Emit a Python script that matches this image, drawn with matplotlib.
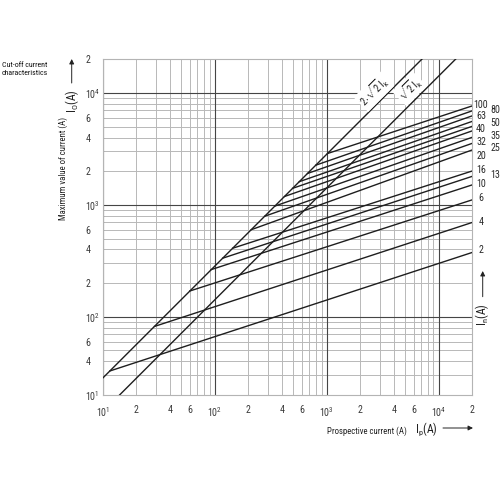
import numpy as np
import matplotlib
matplotlib.use('Agg')
import matplotlib.pyplot as plt
from matplotlib import font_manager as fm
from matplotlib.patches import FancyArrowPatch
from matplotlib.transforms import offset_copy

# ---------------- data ----------------
rated_current = [2, 4, 6, 10, 13, 16, 20, 25, 32, 35, 40, 50, 63, 80, 100]
ip_start = [11.6, 29, 60, 93, 118, 145, 212, 280, 345, 420, 497, 570, 675, 800, 1017]
io_start = [32.8, 82, 170, 264, 334, 410, 600, 792, 976, 1188, 1406, 1612, 1909, 2263, 2876]
io_end = [376, 697, 1110, 1510, 1800, 2010, 3100, 3550, 4020, 4590, 5040, 5580, 6250, 6930, 7670]
ip_end = 20000

peak_ip = [10, 20000]
peak_2sqrt2 = [28.3, 56570]
peak_sqrt2 = [14.14, 28280]

x_ticks = [10, 20, 40, 60, 100, 200, 400, 600, 1000, 2000, 4000, 6000, 10000, 20000]
x_ticklabels = [r'$\mathregular{10^1}$', '2', '4', '6', r'$\mathregular{10^2}$', '2', '4', '6',
                r'$\mathregular{10^3}$', '2', '4', '6', r'$\mathregular{10^4}$', '2']
y_ticks = [20, 40, 60, 100, 200, 400, 600, 1000, 2000, 4000, 6000, 10000, 20000]
y_ticklabels = [r'$\mathregular{10^1}$', '4', '6', r'$\mathregular{10^2}$', '2', '4', '6',
                r'$\mathregular{10^3}$', '2', '4', '6', r'$\mathregular{10^4}$', '2']

# label placement (column, vertical offset in points) for the rated-current labels
label_col = [0, 0, 0, 0, 1, 0, 0, 1, 0, 1, 0, 1, 0, 1, 0]
label_dy = [1.4, 0.2, 1.6, 0.4, 0.7, 0.4, -4.5, -3.1, -3.1, -3.7, -1.7, -0.9, -0.1, 0.6, 0.6]

# ---------------- font: pick the narrowest available ----------------
entries = fm.fontManager.ttflist
names = {f.name for f in entries}
chosen = None
stretch = 'normal'
for nm in ['Liberation Sans Narrow', 'Roboto Condensed', 'Open Sans Condensed',
           'Noto Sans Condensed', 'DejaVu Sans Condensed', 'Arial Narrow']:
    if nm in names:
        chosen = nm
        break
if chosen is None:
    for f in entries:
        st = f.stretch
        cond = (isinstance(st, str) and 'condensed' in st) or (isinstance(st, (int, float)) and st < 500)
        if cond and f.name in ('DejaVu Sans', 'Noto Sans', 'Open Sans', 'Roboto', 'Liberation Sans'):
            chosen = f.name
            stretch = 'condensed'
            break
narrow = chosen is not None
if chosen is None:
    chosen = 'Liberation Sans' if 'Liberation Sans' in names else 'DejaVu Sans'
scale = 1.0 if narrow else 0.88

plt.rcParams['font.family'] = [chosen, 'DejaVu Sans']
plt.rcParams['font.stretch'] = stretch
plt.rcParams['mathtext.fontset'] = 'custom'
plt.rcParams['mathtext.rm'] = chosen
plt.rcParams['mathtext.it'] = chosen

fs_tick = 7.2
fs_small = 6.3 * scale

fig = plt.figure(figsize=(5, 5), dpi=100)
ax = fig.add_axes([0.2054, 0.21, 0.7392, 0.6714])
ax.set_xscale('log')
ax.set_yscale('log')
ax.set_xlim(10, 20000)
ax.set_ylim(20, 20000)

# grid
minor_col = '#b8b8b8'
major_col = '#454545'
for d in [10, 100, 1000, 10000]:
    for m in range(1, 10):
        v = d * m
        if 10 <= v <= 20000:
            if m == 1:
                ax.axvline(v, color=major_col, lw=0.8, zorder=1)
            else:
                ax.axvline(v, color=minor_col, lw=0.7, zorder=0)
        if 20 <= v <= 20000:
            if m == 1:
                ax.axhline(v, color=major_col, lw=0.8, zorder=1)
            else:
                ax.axhline(v, color=minor_col, lw=0.7, zorder=0)

for s in ax.spines.values():
    s.set_color('#b4b4b4')
    s.set_linewidth(0.8)

# curves
line_col = '#1e1e1e'
ax.plot(peak_ip, peak_2sqrt2, color=line_col, lw=1.0, zorder=3)
ax.plot(peak_ip, peak_sqrt2, color=line_col, lw=1.0, zorder=3)
for ip0, io0, io1 in zip(ip_start, io_start, io_end):
    ax.plot([ip0, ip_end], [io0, io1], color=line_col, lw=1.0, zorder=3)

# ticks
ax.set_xticks(x_ticks)
ax.set_xticklabels(x_ticklabels)
ax.set_yticks(y_ticks)
ax.set_yticklabels(y_ticklabels)
ax.minorticks_off()
ax.tick_params(axis='x', length=0, pad=7, labelsize=fs_tick, colors='#3a3a3a')
ax.tick_params(axis='y', length=0, pad=12.5, labelsize=fs_tick, colors='#3a3a3a')
for t in ax.get_yticklabels():
    t.set_horizontalalignment('left')

# diagonal labels
ax.text(2650, 10300, r'$\mathregular{2{\cdot}\sqrt{2}\,I_k}$', rotation=45, fontsize=7.5,
        ha='center', va='center', color='#1e1e1e', zorder=4,
        bbox=dict(facecolor='white', edgecolor='none', pad=0.8))
ax.text(5500, 10900, r'$\mathregular{\sqrt{2}\,I_k}$', rotation=45, fontsize=7.5,
        ha='center', va='center', color='#1e1e1e', zorder=4,
        bbox=dict(facecolor='white', edgecolor='none', pad=0.8))

# rated-current labels at the right
for n, io1, col, dy in zip(rated_current, io_end, label_col, label_dy):
    dx = 6.3 if col == 0 else 16.3
    tr = offset_copy(ax.transData, fig=fig, x=dx, y=dy, units='points')
    ax.text(ip_end, io1, str(n), transform=tr, fontsize=fs_tick * (1.0 if narrow else 0.92),
            ha='center', va='center', color='#2a2a2a', clip_on=False)

# axis titles
fig.text(0.049, 0.862, 'Cut-off current\ncharacteristics', fontsize=5.7 * scale, ha='center',
         va='center', color='#111111', linespacing=1.3, multialignment='center')
fig.text(0.126, 0.664, 'Maximum value of current (A)', fontsize=fs_small, rotation=90,
         ha='center', va='center', color='#222222')
fig.text(0.1434, 0.797, r'$\mathregular{I_O}$(A)', fontsize=8.5, rotation=90,
         ha='center', va='center', color='#222222')
fig.text(0.814, 0.137, 'Prospective current (A)', fontsize=fs_small, ha='right',
         va='center', color='#222222')
fig.text(0.830, 0.140, r'$\mathregular{I_p}$(A)', fontsize=8.5, ha='left',
         va='center', color='#222222')
fig.text(0.964, 0.37, r'$\mathregular{I_n}$(A)', fontsize=8.5, rotation=90,
         ha='center', va='center', color='#222222')

arrow_kw = dict(arrowstyle='-|>', mutation_scale=7, color='#222222', lw=0.7,
                shrinkA=0, shrinkB=0)
fig.add_artist(FancyArrowPatch((0.1434, 0.834), (0.1434, 0.882),
               transform=fig.transFigure, **arrow_kw))
fig.add_artist(FancyArrowPatch((0.886, 0.144), (0.946, 0.144),
               transform=fig.transFigure, **arrow_kw))
fig.add_artist(FancyArrowPatch((0.9654, 0.4066), (0.9654, 0.458),
               transform=fig.transFigure, **arrow_kw))

fig.savefig('out.png', dpi=100, facecolor='white')
